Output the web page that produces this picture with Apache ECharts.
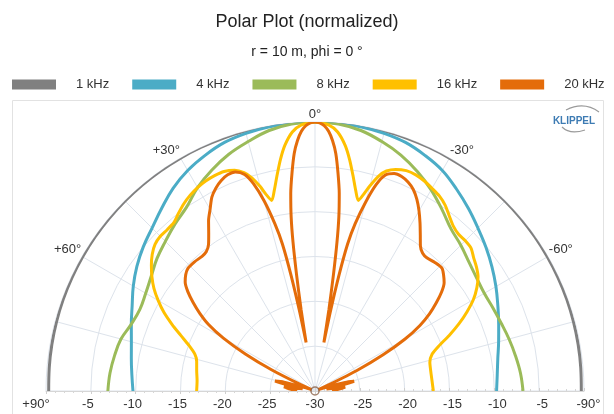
<!DOCTYPE html>
<html>
<head>
<meta charset="utf-8">
<title>Polar Plot (normalized)</title>
<script src="https://cdn.jsdelivr.net/npm/echarts@6/dist/echarts.min.js"></script>
<style>
  html, body { margin: 0; padding: 0; background: #ffffff; }
  #chart { width: 614px; height: 414px; }
</style>
</head>
<body>
<div id="chart"></div>
<script>
// ---- data: sound pressure level (dB, normalized to 0 dB on axis) vs. angle (deg) ----
const seriesNames = ['1 kHz', '4 kHz', '8 kHz', '16 kHz', '20 kHz'];
const seriesColors = ['#808080', '#4bacc6', '#9bbb59', '#ffc000', '#e46c0a'];

// shared angle grid for the smooth low-frequency curves (+90 = left, -90 = right)
const anglesCoarse = [90, 85, 80, 75, 70, 65, 60, 55, 50, 45, 40, 35, 30, 25, 20, 15, 10, 5, 0,
  -5, -10, -15, -20, -25, -30, -35, -40, -45, -50, -55, -60, -65, -70, -75, -80, -85, -90];

const db1k = [-0.3, -0.25, -0.2, -0.16, -0.12, -0.1, -0.08, -0.06, -0.05, -0.04, -0.03, -0.02, -0.01, 0, 0, 0, 0, 0, 0,
  0, 0, 0, 0, 0, -0.01, -0.02, -0.03, -0.04, -0.05, -0.06, -0.08, -0.1, -0.12, -0.16, -0.2, -0.25, -0.3];

const db4k = [-9.7, -9.5, -9.2, -8.8, -8.2, -7.5, -6.6, -5.75, -5.0, -4.3, -3.4, -2.4, -1.6, -1.0, -0.5, -0.25, -0.1, -0.02, 0,
  -0.02, -0.1, -0.25, -0.5, -1.0, -1.6, -2.5, -3.4, -4.3, -5.1, -5.9, -6.7, -7.5, -8.2, -8.8, -9.3, -9.6, -9.75];

const db8k = [-6.9, -7.05, -7.3, -7.6, -8.2, -8.45, -8.2, -7.7, -7.0, -6.4, -5.7, -5.0, -3.8, -2.8, -1.9, -1.2, -0.5, -0.1, 0,
  -0.1, -0.5, -1.2, -2.0, -3.0, -4.1, -5.3, -6.4, -7.0, -7.6, -8.0, -8.2, -8.1, -7.9, -7.6, -7.3, -7.0, -6.8];

const angles16k = [90, 85, 80, 76, 73, 70, 67.5, 65, 62.5, 60, 57.5, 55, 52.5, 50, 47.5, 45, 42.5, 40, 37.5, 35,
  32.5, 30, 27.5, 25, 22.5, 20, 18, 16.5, 15, 14, 12.8, 11.5, 10, 8.5, 7, 5, 3, 0,
  -3, -5, -7, -8.5, -10, -11.5, -12.8, -14, -15, -16.5, -18, -20, -22.5, -25, -27.5, -30, -32.5,
  -35, -37.5, -40, -42.5, -45, -47.5, -50, -52.5, -55, -57.5, -60, -62.5, -65, -67.5, -70, -72.5, -76, -80, -85, -90];
const db16k = [-16.8, -16.8, -16.6, -16.4, -16.0, -15.0, -13.8, -12.4, -11.0, -9.8, -8.7, -7.8, -7.0, -6.3, -5.8, -5.6, -5.6, -5.5, -5.0, -4.5,
  -4.1, -3.8, -3.6, -3.5, -3.5, -3.8, -4.4, -5.2, -6.4, -7.4, -8.2, -7.2, -5.6, -3.9, -2.4, -1.0, -0.3, 0,
  -0.3, -1.0, -2.4, -3.9, -5.6, -7.2, -8.2, -7.3, -6.3, -5.0, -4.2, -3.7, -3.4, -3.4, -3.6, -3.9, -4.2,
  -4.7, -5.4, -6.0, -6.3, -6.3, -6.4, -6.9, -7.3, -7.8, -8.6, -9.6, -10.9, -12.3, -13.8, -15.3, -16.3, -16.8, -16.9, -16.9, -16.8];

const angles20k = [90, 88, 85, 82.5, 80, 78, 76, 74, 71, 68, 66, 64, 62, 60, 58, 56, 54, 52, 50, 48, 46, 43, 40, 38, 36, 34, 32, 30,
  28, 26, 24, 22, 20, 18, 16.5, 15, 13.5, 12.5, 11.7, 11, 10.4, 9.7, 9, 8.4, 7.8, 7, 6, 5, 4, 3, 2, 1, 0,
  -1, -2, -3, -4, -5, -6, -7, -7.8, -8.4, -9, -9.7, -10.4, -11, -11.7, -12.5, -13.5, -15, -16.5, -18, -20, -22, -24, -26, -28,
  -30, -32, -34, -36, -38, -40, -43, -46, -48, -50, -52, -54, -56, -58, -60, -62, -64, -66, -68, -71, -74, -76, -78, -80, -82.5, -85, -88, -90];
const db20k = [-28.0, -27.7, -27.1, -26.5, -28.6, -27.2, -25.4, -26.4, -28.8, -29.6, -28.0, -24.6, -21.2, -18.2, -16.0, -14.5, -13.2, -12.0, -11.1, -10.6, -10.3, -10.3, -10.4, -10.3, -9.8, -8.8, -7.6, -6.6,
  -5.5, -4.8, -4.3, -4.0, -4.0, -4.6, -5.9, -8.0, -10.8, -13.2, -16.8, -20.8, -24.5, -20.8, -16.8, -13.2, -10.4, -7.8, -5.5, -3.4, -2.0, -1.0, -0.4, -0.1, 0,
  -0.1, -0.4, -1.0, -2.0, -3.4, -5.5, -7.8, -10.4, -13.2, -16.8, -20.8, -24.5, -20.8, -16.8, -13.2, -10.8, -8.2, -6.0, -4.7, -4.2, -4.2, -4.5, -5.0, -5.8,
  -6.8, -7.9, -9.0, -10.0, -10.5, -10.6, -10.4, -10.3, -10.7, -11.2, -12.1, -13.3, -14.6, -16.2, -18.4, -21.4, -24.8, -28.2, -29.6, -28.8, -26.5, -25.5, -27.3, -28.7, -26.6, -27.2, -27.8, -28.1];

// tick labels
const angleTickValues = [90, 60, 30, 0, -30, -60, -90];
const angleTickLabels = ['', '+60°', '+30°', '0°', '-30°', '-60°', ''];
const levelEndLabelLeft = '+90°';
const levelEndLabelRight = '-90°';

// ---- chart ----
const FONT = '"Liberation Sans", Arial, sans-serif';
const gridColor = '#dde3eb';
const labelStyle = { fontFamily: FONT, fontSize: 13, color: '#333' };
const chart = echarts.init(document.getElementById('chart'), null, { renderer: 'canvas' });

function pairs(angles, values) {
  return angles.map((a, i) => [values[i], a]);
}

const curves = [
  pairs(anglesCoarse, db1k),
  pairs(anglesCoarse, db4k),
  pairs(anglesCoarse, db8k),
  pairs(angles16k, db16k),
  pairs(angles20k, db20k)
];

const lineSeries = curves.map((d, i) => ({
  name: seriesNames[i],
  type: 'line',
  coordinateSystem: 'polar',
  polarIndex: 0,
  data: d,
  smooth: i >= 3 ? 0.25 : 0.4,
  showSymbol: false,
  symbol: 'none',
  clip: false,
  lineStyle: { color: seriesColors[i], width: 3 },
  itemStyle: { color: seriesColors[i] },
  z: 3 + i
}));

// level labels along the baseline; the end labels sit a little further out
const levelRichLeft = {
  n: Object.assign({ padding: [0, 6, 0, 0] }, labelStyle),
  e: Object.assign({ padding: [0, 20, 0, 0] }, labelStyle)
};
const levelRichRight = {
  n: Object.assign({ padding: [0, 0, 0, 6] }, labelStyle),
  e: Object.assign({ padding: [0, 0, 0, 9] }, labelStyle),
  c: Object.assign({}, labelStyle)
};

const option = {
  animation: false,
  backgroundColor: '#ffffff',
  textStyle: { fontFamily: FONT },
  title: [
    { text: 'Polar Plot (normalized)', left: 'center', top: 8,
      textStyle: { fontFamily: FONT, fontSize: 18, fontWeight: 'normal', color: '#222' } },
    { text: 'r = 10 m, phi = 0 °', left: 'center', top: 40,
      textStyle: { fontFamily: FONT, fontSize: 14, fontWeight: 'normal', color: '#222' } }
  ],
  legend: {
    data: seriesNames,
    left: 7,
    top: 73,
    itemWidth: 44,
    itemHeight: 10,
    itemGap: 23,
    icon: 'rect',
    selectedMode: false,
    textStyle: { fontFamily: FONT, fontSize: 13, color: '#333', padding: [0, 0, 0, 15] }
  },
  graphic: [
    { type: 'rect', shape: { x: 12.5, y: 100.5, width: 591, height: 330 },
      style: { fill: 'none', stroke: '#e2e2e2', lineWidth: 1 }, silent: true, z: 0 },
    { type: 'text', style: { x: 574, y: 121, text: 'KLIPPEL', fill: '#3d7bb3',
        font: 'bold 10px ' + FONT, textAlign: 'center', textVerticalAlign: 'middle' }, silent: true },
    { type: 'bezierCurve', shape: { x1: 566, y1: 110, cpx1: 584, cpy1: 101, x2: 599, y2: 112 },
      style: { fill: 'none', stroke: '#9a9a9a', lineWidth: 1.2 }, silent: true },
    { type: 'bezierCurve', shape: { x1: 562, y1: 127, cpx1: 570, cpy1: 135, x2: 585, y2: 130 },
      style: { fill: 'none', stroke: '#9a9a9a', lineWidth: 1.2 }, silent: true }
  ],
  polar: [
    { center: [315, 391], radius: 269 },
    { center: [315, 391], radius: 269 }
  ],
  angleAxis: [
    {
      polarIndex: 0,
      type: 'value',
      min: -90, max: 90, interval: 15,
      startAngle: 0, endAngle: 180, clockwise: false,
      axisLine: { show: false },
      axisTick: { show: false },
      axisLabel: Object.assign({
        margin: 1,
        formatter: v => {
          const k = angleTickValues.indexOf(v);
          return k >= 0 ? angleTickLabels[k] : '';
        }
      }, labelStyle),
      splitLine: { show: true, lineStyle: { color: gridColor, width: 1 } }
    },
    {
      polarIndex: 1,
      type: 'value',
      min: -90, max: 90,
      startAngle: 180, endAngle: 0, clockwise: true,
      axisLine: { show: false }, axisTick: { show: false },
      axisLabel: { show: false }, splitLine: { show: false }
    }
  ],
  radiusAxis: [
    {
      polarIndex: 0,
      type: 'value',
      min: -30, max: 0, interval: 5,
      axisLine: { show: true, lineStyle: { color: '#d6d6d6', width: 1 } },
      axisTick: { show: true, length: 3, lineStyle: { color: '#cfcfcf' } },
      minorTick: { show: true, splitNumber: 5, length: 2, lineStyle: { color: '#d6d6d6' } },
      axisLabel: Object.assign({
        margin: -20,
        rich: levelRichRight,
        formatter: v => (v === 0 ? '{e|' + levelEndLabelRight + '}'
          : (v === -30 ? '{c|' + v + '}' : '{n|' + v + '}'))
      }, labelStyle),
      splitLine: { show: true, lineStyle: { color: gridColor, width: 1 } }
    },
    {
      polarIndex: 1,
      type: 'value',
      min: -30, max: 0, interval: 5,
      axisLine: { show: true, lineStyle: { color: '#d6d6d6', width: 1 } },
      axisTick: { show: true, length: 3, lineStyle: { color: '#cfcfcf' } },
      minorTick: { show: true, splitNumber: 5, length: 2, lineStyle: { color: '#d6d6d6' } },
      axisLabel: Object.assign({
        margin: 7,
        rich: levelRichLeft,
        formatter: v => (v === 0 ? '{e|' + levelEndLabelLeft + '}'
          : (v === -30 ? '' : '{n|' + v + '}'))
      }, labelStyle),
      splitLine: { show: false }
    }
  ],
  series: lineSeries.concat([{
    name: 'origin',
    type: 'scatter',
    coordinateSystem: 'polar',
    polarIndex: 0,
    data: [[-30, 0]],
    symbol: 'circle',
    symbolSize: 8,
    silent: true,
    itemStyle: { color: 'rgba(0,0,0,0)', borderColor: '#8a6248', borderWidth: 1.5 },
    z: 10
  }])
};

chart.setOption(option);
</script>
</body>
</html>
